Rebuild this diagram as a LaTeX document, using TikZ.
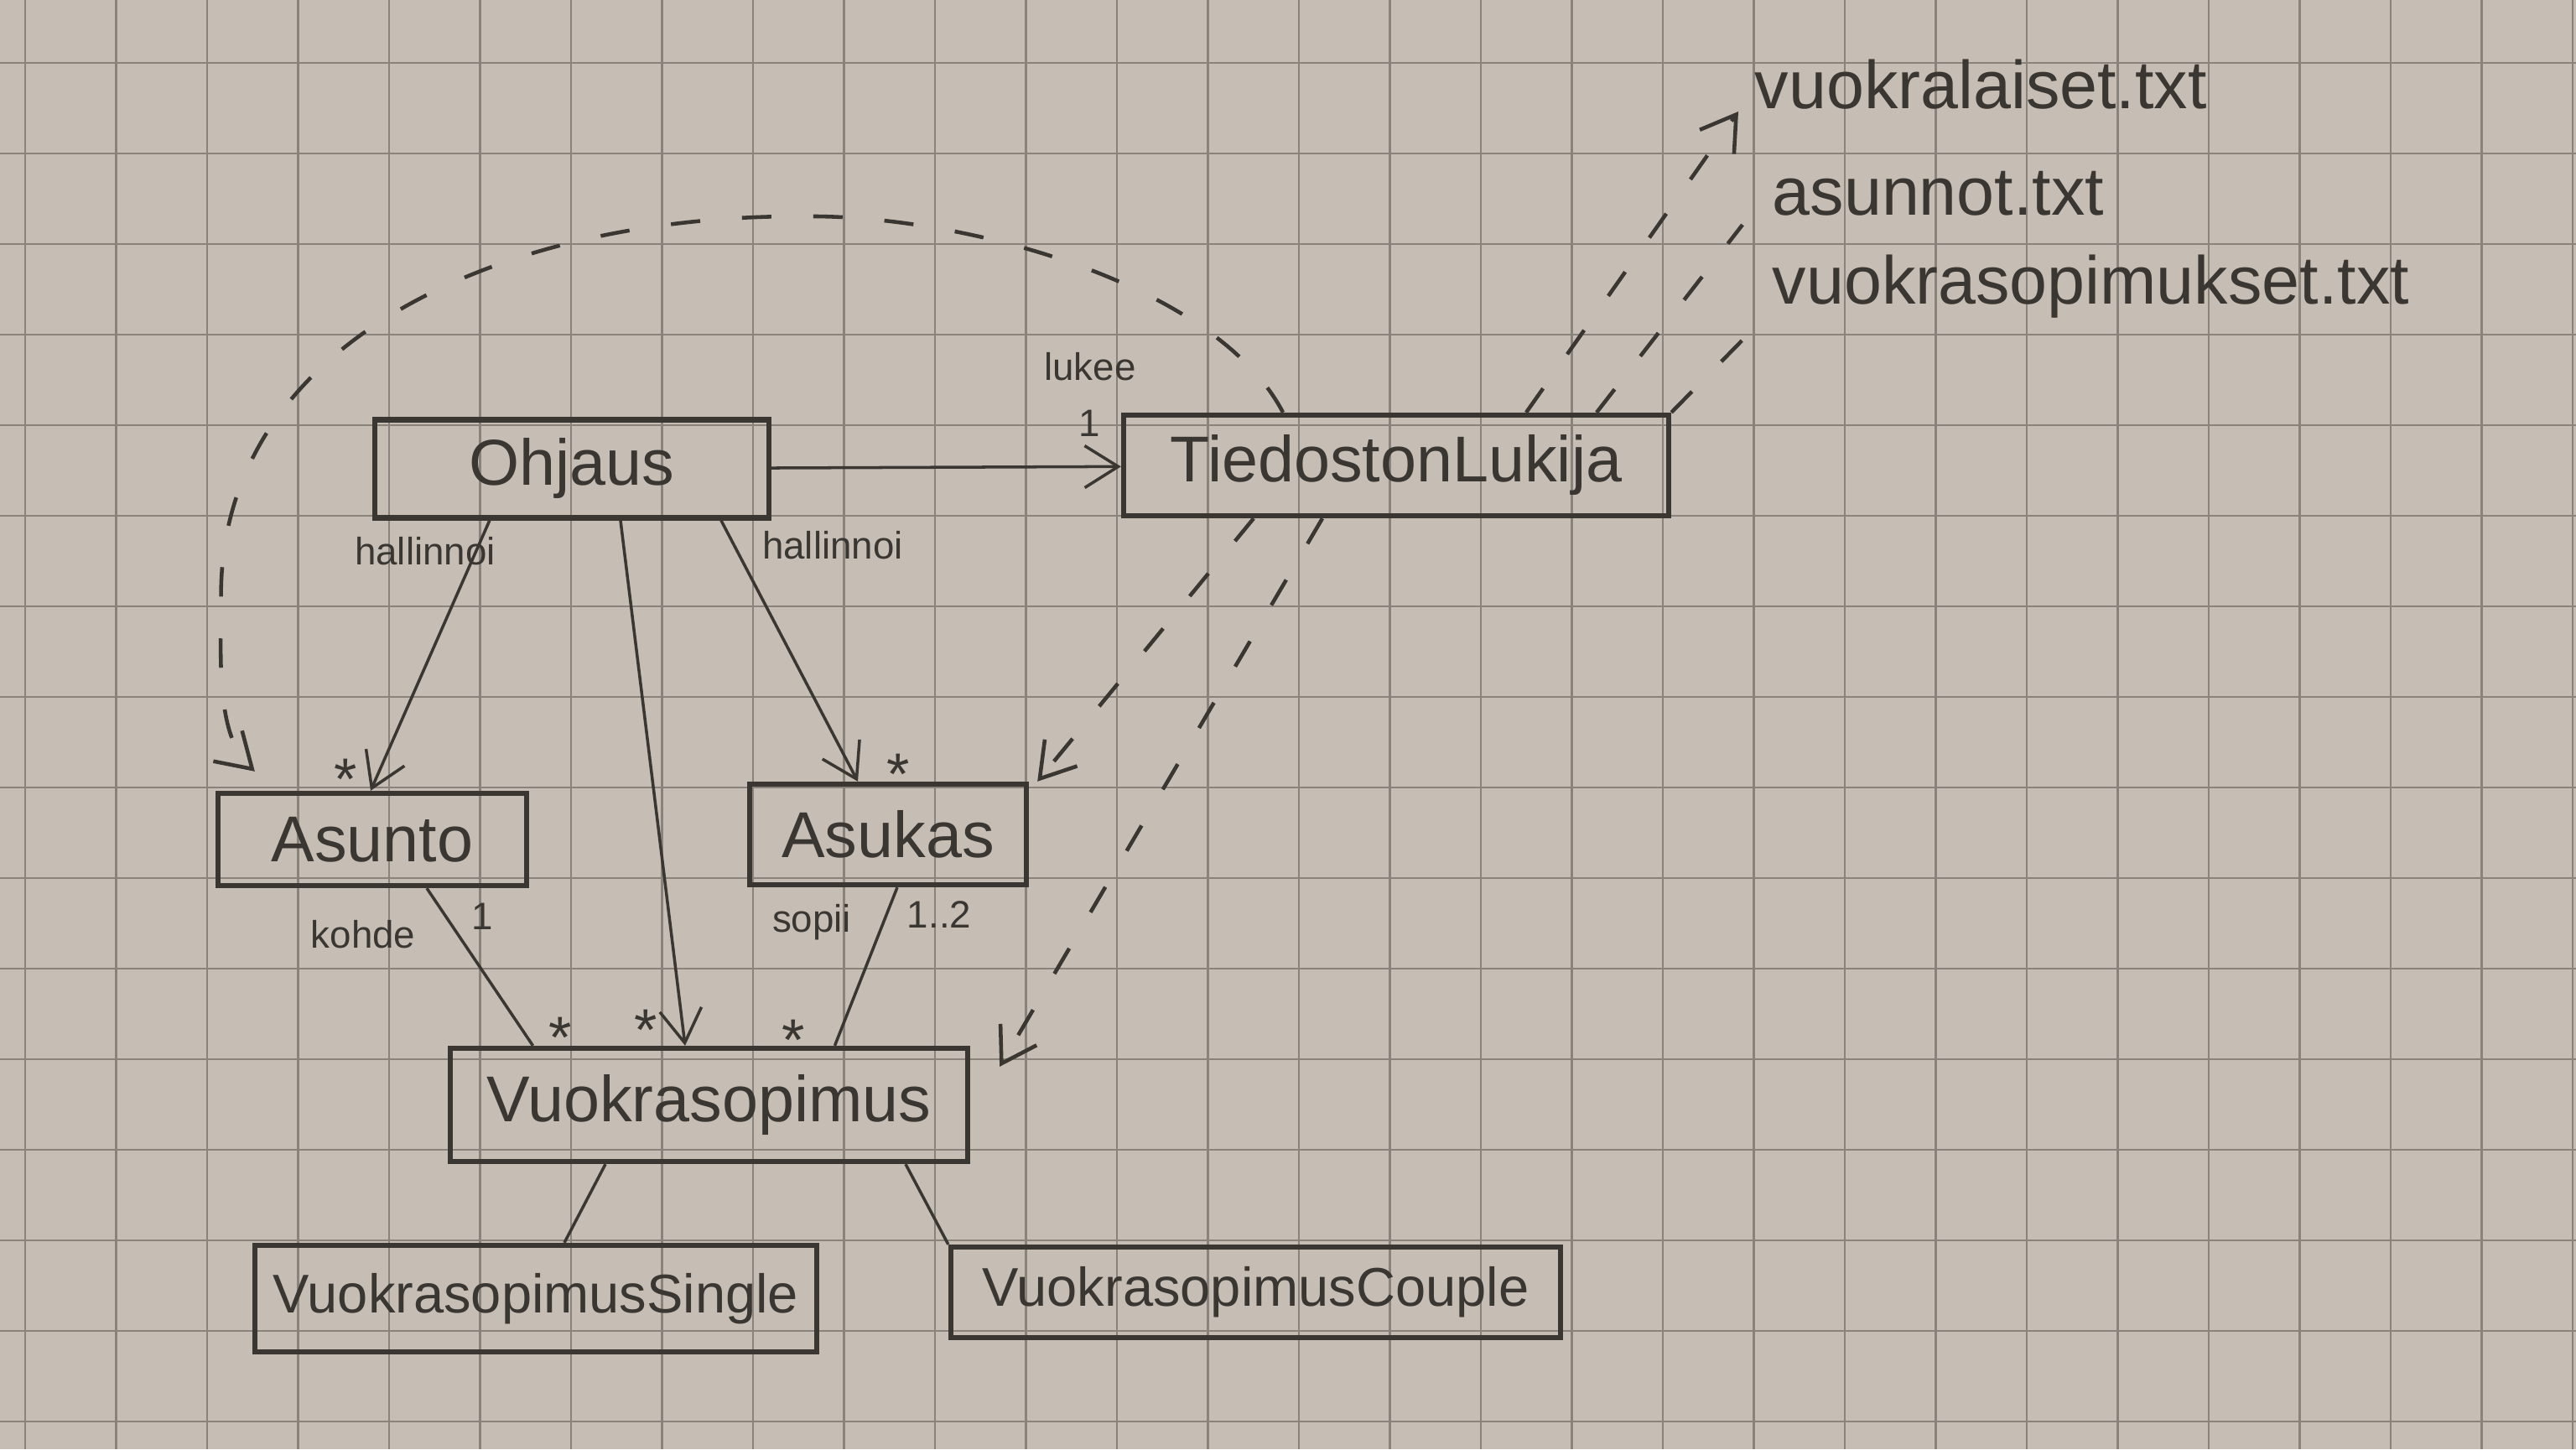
\documentclass[tikz,border=0pt]{standalone}
\usepackage{fontspec}
\setmainfont{Liberation Sans}
\usetikzlibrary{arrows.meta}
\definecolor{paper}{RGB}{198,190,180}
\definecolor{gridline}{RGB}{138,131,123}
\definecolor{pencil}{RGB}{58,54,50}
\tikzset{
  klass/.style={draw=pencil, line width=1.8pt, inner sep=0pt, text=pencil, font=\fontsize{22}{26}\selectfont},
  sub/.style={klass, font=\fontsize{18.5}{22}\selectfont},
  assoc/.style={draw=pencil, line width=1pt},
  nav/.style={assoc, -{Straight Barb[length=4mm,width=5mm]}},
  dep/.style={assoc, line width=1.3pt, dash pattern=on 3.5mm off 5mm},
  depto/.style={dep, -{Straight Barb[length=4mm,width=5mm]}},
  lbl/.style={text=pencil, inner sep=0pt, font=\fontsize{13}{15}\selectfont},
  mult/.style={text=pencil, inner sep=0pt, font=\fontsize{20}{22}\selectfont},
  fil/.style={text=pencil, inner sep=0pt, anchor=base west, font=\fontsize{23}{26}\selectfont}
}
\begin{document}
\begin{tikzpicture}
      \useasboundingbox (0,0) rectangle (30.72,17.28);
      \fill[paper] (0,0) rectangle (30.72,17.28);
      % squared paper
      \foreach \i in {0,...,28}
      \draw[gridline, line width=0.8pt] (0.30+1.085*\i,0) -- ++(0,17.28);
      \foreach \k in {0,...,15}
      \draw[gridline, line width=0.8pt] (0,16.53-1.08*\k) -- ++(30.72,0);
      % classes
      \node[klass, minimum width=4.7cm, minimum height=1.17cm] (ohjaus) at (6.82,11.69) {Ohjaus};
      \node[klass, minimum width=6.5cm, minimum height=1.2cm] (lukija) at (16.65,11.73) {TiedostonLukija};
      \node[klass, minimum width=3.68cm, minimum height=1.1cm] (asunto) at (4.44,7.27) {Asunto};
      \node[klass, minimum width=3.3cm, minimum height=1.2cm] (asukas) at (10.59,7.33) {Asukas};
      \node[klass, minimum width=6.17cm, minimum height=1.35cm] (sopimus) at (8.455,4.105) {Vuokrasopimus};
      \node[sub, minimum width=6.7cm, minimum height=1.27cm] (single) at (6.39,1.795) {VuokrasopimusSingle};
      \node[sub, minimum width=7.27cm, minimum height=1.08cm] (couple) at (14.975,1.87) {VuokrasopimusCouple};
      % files
      \node[fil] (fvuok) at (20.92,15.98) {vuokralaiset.txt};
      \node[fil] (fasun) at (21.13,14.71) {asunnot.txt};
      \node[fil] (fsop) at (21.13,13.65) {vuokrasopimukset.txt};
      % associations
      \draw[nav] (ohjaus) -- (lukija);
      \draw[nav] ([xshift=1.40cm]ohjaus.south west) -- ([xshift=-0.02cm]asunto.north);
      \draw[nav] ([xshift=0.58cm]ohjaus.south) -- ([xshift=-0.285cm]sopimus.north);
      \draw[nav] ([xshift=1.78cm]ohjaus.south) -- ([xshift=-0.36cm]asukas.north);
      \draw[assoc] ([xshift=0.65cm]asunto.south) -- ([xshift=-2.1cm]sopimus.north);
      \draw[assoc] ([xshift=0.11cm]asukas.south) -- ([xshift=1.5cm]sopimus.north);
      \draw[assoc] ([xshift=-1.235cm]sopimus.south) -- ([xshift=0.34cm]single.north);
      \draw[assoc] ([xshift=2.345cm]sopimus.south) -- (couple.north west);
      % dependencies of the reader
      \draw[depto] ([xshift=-1.7cm]lukija.south) -- ([xshift=0.1cm]asukas.north east);
      \draw[depto] ([xshift=-0.88cm]lukija.south) -- ([xshift=0.35cm,yshift=-0.25cm]sopimus.north east);
      \draw[depto] ([xshift=-1.35cm]lukija.north)
          .. controls (14.5,13.9) and (11.5,14.72) .. (9.59,14.70)
          .. controls (6.0,14.72) and (2.5,13.2) .. (2.64,10.0)
          .. controls (2.6,8.9) and (2.7,8.4) .. ([shift={(0.47,0.23)}]asunto.north west);
      \draw[depto] ([xshift=1.55cm]lukija.north) -- ([xshift=-0.19cm,yshift=-0.03cm]fvuok.base west);
      \draw[dep] ([xshift=2.39cm]lukija.north) -- ([xshift=-0.35cm,yshift=-0.11cm]fasun.base west);
      \draw[dep] (lukija.north east) -- ([xshift=-0.13cm,yshift=-0.2cm]fsop.base west);
      % role names and multiplicities
      \foreach \name/\pos/\txt in {lukee/{13.0,12.91}/lukee, ylk/{12.99,12.23}/1,
          hall/{5.07,10.71}/hallinnoi, halr/{9.93,10.78}/hallinnoi,
          kohde/{4.33,6.14}/kohde, yks/{5.75,6.35}/1,
          sopii/{9.68,6.28}/sopii, yksk/{11.20,6.37}/1..2}
      \node[lbl] (\name) at (\pos) {\txt};
      \foreach \name/\pos in {ma/{4.12,7.99}, mb/{10.71,8.05}, mc/{6.68,4.91}, md/{7.70,5.00}, me/{9.46,4.88}}
      \node[mult] (\name) at (\pos) {*};
\end{tikzpicture}
\end{document}
